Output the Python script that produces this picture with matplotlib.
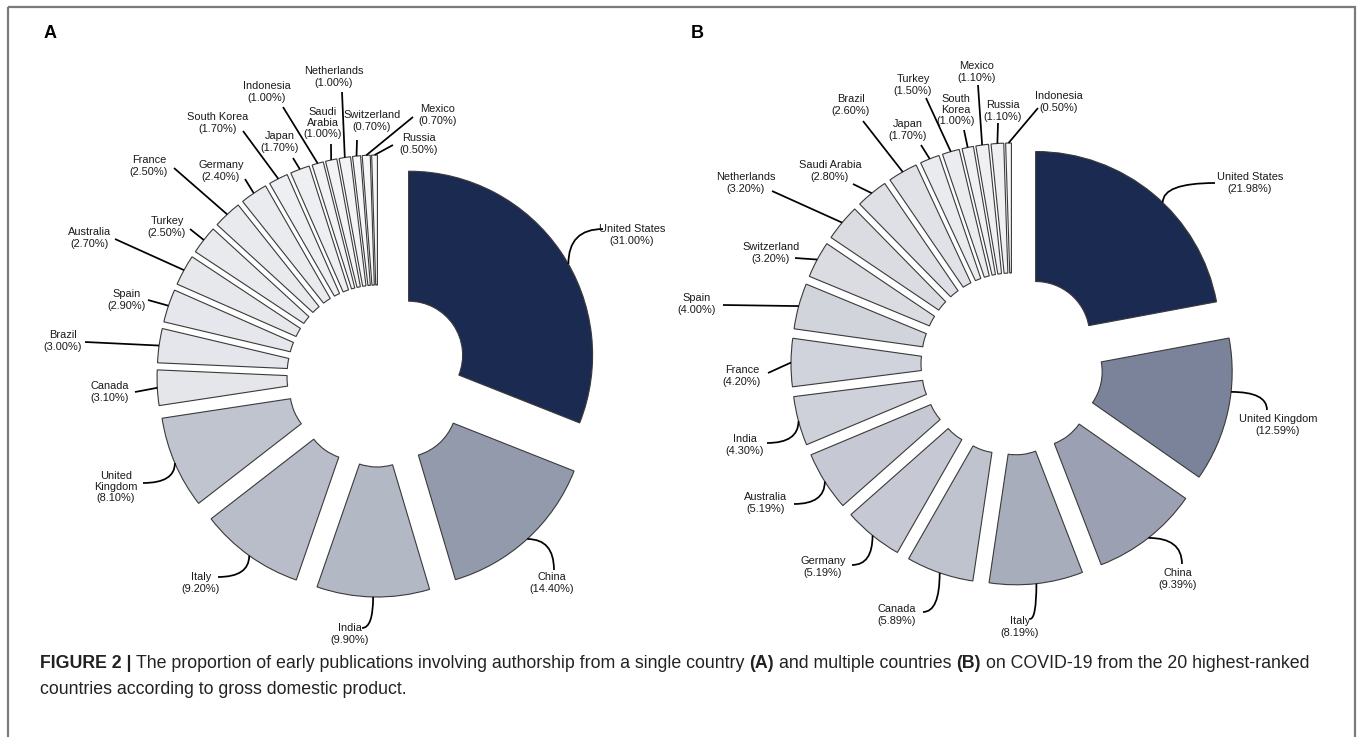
import numpy as np
import matplotlib
matplotlib.use("Agg")
import matplotlib.pyplot as plt
from matplotlib.colors import LinearSegmentedColormap
from matplotlib.path import Path
from matplotlib.patches import PathPatch, Rectangle

# ---------------- data ----------------
countries_a = ["United States", "China", "India", "Italy", "United\nKingdom", "Canada", "Brazil",
               "Spain", "Australia", "Turkey", "France", "Germany", "South Korea", "Japan",
               "Indonesia", "Saudi\nArabia", "Netherlands", "Switzerland", "Mexico", "Russia"]
values_a = [31.00, 14.40, 9.90, 9.20, 8.10, 3.10, 3.00, 2.90, 2.70, 2.50, 2.50, 2.40, 1.70, 1.70,
            1.00, 1.00, 1.00, 0.70, 0.70, 0.50]

countries_b = ["United States", "United Kingdom", "China", "Italy", "Canada", "Germany", "Australia",
               "India", "France", "Spain", "Switzerland", "Netherlands", "Saudi Arabia", "Brazil",
               "Japan", "Turkey", "South\nKorea", "Mexico", "Russia", "Indonesia"]
values_b = [21.98, 12.59, 9.39, 8.19, 5.89, 5.19, 5.19, 4.30, 4.20, 4.00, 3.20, 3.20, 2.80, 2.60,
            1.70, 1.50, 1.00, 1.10, 1.10, 0.50]

# ---------------- layout (pixel coordinates) ----------------
W, H = 1358, 737
R_OUT, R_IN, EXPLODE = 184, 54, 37
center_a = (378, 376)
center_b = (1012, 364)

# label text centre (x, y), connector end (x, y), connector kind, anchor fraction along wedge
layout_a = [
    (632, 235, 603, 229, "v", 0.54),
    (552, 583, 554, 570, "h", 0.5),
    (350, 634, 362, 628, "v", 0.5),
    (201, 583, 218, 577, "v", 0.5),
    (116, 487, 143, 483, "v", 0.5),
    (110, 392, 135, 392, "l", 0.5),
    (63, 341, 85, 342, "l", 0.5),
    (127, 300, 148, 300, "l", 0.5),
    (90, 238, 115, 239, "l", 0.5),
    (167, 227, 190, 229, "l", 0.5),
    (149, 166, 174, 168, "l", 0.5),
    (221, 171, 245, 179, "l", 0.5),
    (218, 123, 243, 131, "l", 0.5),
    (280, 142, 293, 158, "l", 0.5),
    (267, 92, 283, 107, "l", 0.5),
    (323, 123, 331, 144, "l", 0.5),
    (334, 77, 342, 92, "l", 0.5),
    (372, 121, 357, 140, "l", 0.5),
    (438, 115, 413, 117, "l", 0.5),
    (419, 144, 393, 145, "l", 0.5),
]
layout_b = [
    (1250, 183, 1215, 183, "v", 0.55),
    (1278, 425, 1267, 410, "h", 0.37),
    (1178, 579, 1182, 564, "h", 0.5),
    (1020, 627, 1030, 619, "v", 0.5),
    (897, 615, 923, 612, "v", 0.5),
    (823, 567, 852, 565, "v", 0.5),
    (766, 503, 794, 504, "v", 0.5),
    (745, 445, 767, 443, "v", 0.5),
    (742, 376, 768, 373, "l", 0.5),
    (697, 304, 723, 305, "l", 0.5),
    (771, 253, 795, 258, "l", 0.5),
    (746, 183, 772, 191, "l", 0.5),
    (830, 171, 853, 184, "l", 0.5),
    (851, 105, 863, 121, "l", 0.5),
    (908, 130, 921, 145, "l", 0.5),
    (913, 85, 926, 98, "l", 0.5),
    (956, 110, 964, 130, "l", 0.5),
    (977, 72, 978, 85, "l", 0.5),
    (1003, 111, 998, 123, "l", 0.5),
    (1059, 102, 1038, 108, "l", 0.5),
]

LABEL_FONT = "Liberation Sans"
LABEL_SIZE = 7.9
TEXT_COLOR = "#1a1a1a"
EDGE = "#3a3a3a"
cmap = LinearSegmentedColormap.from_list("navy", ["#fafafb", "#1b2a50"])

fig = plt.figure(figsize=(W / 100, H / 100), dpi=100)
ax = fig.add_axes([0, 0, 1, 1])


def draw_panel(values, names, center, layout):
    vals = np.array(values)
    colors = [cmap(v / vals.max()) for v in vals]
    wedges, _ = ax.pie(vals, radius=R_OUT, center=center, startangle=-90, counterclock=True,
                       explode=[EXPLODE] * len(vals), colors=colors,
                       wedgeprops=dict(width=R_OUT - R_IN, edgecolor=EDGE, linewidth=0.8),
                       frame=False)
    for w, name, v, (tx, ty, ex, ey, kind, frac) in zip(wedges, names, vals, layout):
        tm = np.deg2rad(w.theta1 + frac * (w.theta2 - w.theta1))
        cx, cy = w.center
        ax_, ay_ = cx + w.r * np.cos(tm), cy + w.r * np.sin(tm)
        if kind == "l":
            verts = [(ax_, ay_), (ex, ey)]
            codes = [Path.MOVETO, Path.LINETO]
        else:
            ctrl = (ax_, ey) if kind == "v" else (ex, ay_)
            verts = [(ax_, ay_), ctrl, (ex, ey)]
            codes = [Path.MOVETO, Path.CURVE3, Path.CURVE3]
        ax.add_patch(PathPatch(Path(verts, codes), fill=False, edgecolor="black", lw=1.25,
                               capstyle="butt"))
        ax.text(tx, ty, f"{name}\n({v:.2f}%)", ha="center", va="center", fontsize=LABEL_SIZE,
                family=LABEL_FONT, color=TEXT_COLOR, linespacing=1.15, multialignment="center")


draw_panel(values_a, countries_a, center_a, layout_a)
draw_panel(values_b, countries_b, center_b, layout_b)

ax.set_xlim(0, W)
ax.set_ylim(H, 0)
ax.set_aspect("equal")
ax.axis("off")

# frame
ax.add_patch(Rectangle((8, 7), 1347, 780, fill=False, edgecolor="#7a7a7a", lw=1.6, clip_on=False))

# panel letters
ax.text(50, 33, "A", fontsize=13, fontweight="bold", family=LABEL_FONT, ha="center", va="center")
ax.text(697, 33, "B", fontsize=13, fontweight="bold", family=LABEL_FONT, ha="center", va="center")

# caption
fig.canvas.draw()
rend = fig.canvas.get_renderer()
CAP_FONT = "Liberation Sans"


def width_of(s, fs, weight):
    t = ax.text(0, 0, s, fontsize=fs, fontweight=weight, family=CAP_FONT)
    wdt = t.get_window_extent(renderer=rend).width
    t.remove()
    return wdt


line1 = [("FIGURE 2 |", "bold"), ("The proportion of early publications involving authorship from a single country", "normal"),
         ("(A)", "bold"), ("and multiple countries", "normal"), ("(B)", "bold"),
         ("on COVID-19 from the 20 highest-ranked", "normal")]
line2 = [("countries according to gross domestic product.", "normal")]

fs0 = 12
sp0 = width_of("x x", fs0, "normal") - width_of("xx", fs0, "normal")
tot0 = sum(width_of(s, fs0, wt) for s, wt in line1) + sp0 * (len(line1) - 1)
fs = fs0 * 1276 / tot0
sp = width_of("x x", fs, "normal") - width_of("xx", fs, "normal")

for y, segs in [(663, line1), (689, line2)]:
    x = 40
    for s, wt in segs:
        t = ax.text(x, y, s, fontsize=fs, fontweight=wt, family=CAP_FONT, ha="left", va="center",
                    color="#222222")
        x += t.get_window_extent(renderer=rend).width + sp

fig.savefig("out.png", dpi=100)
